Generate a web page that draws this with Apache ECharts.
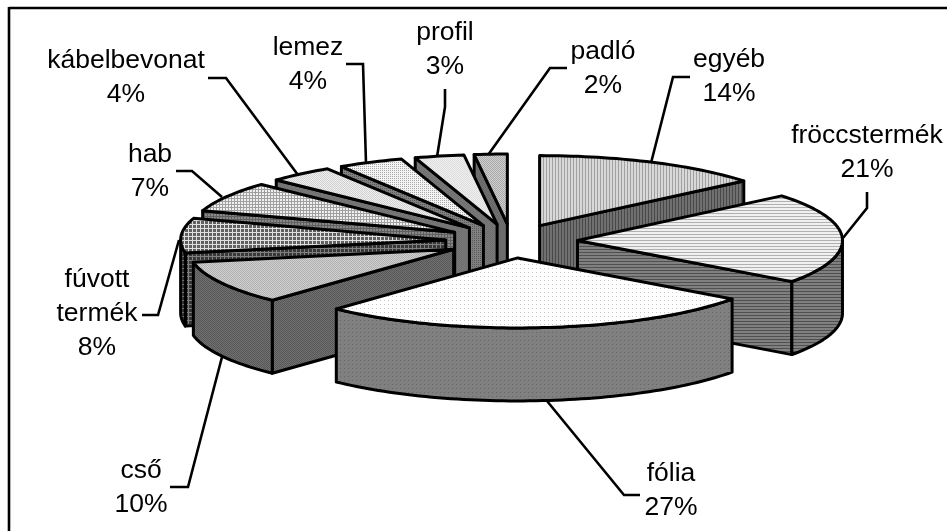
<!DOCTYPE html>
<html>
<head>
<meta charset="utf-8">
<style>
  html, body { margin: 0; padding: 0; background: #fff; }
  #chart { width: 947px; height: 531px; }
</style>
<script src="https://cdn.jsdelivr.net/npm/echarts@6/dist/echarts.min.js"></script>
</head>
<body>
<div id="chart"></div>
<script>
// clockwise from 12 o'clock
const categories = ['egyéb', 'fröccstermék', 'fólia', 'cső', 'fúvott\ntermék', 'hab', 'kábelbevonat', 'lemez', 'profil', 'padló']
const shares = [14, 21, 27, 10, 8, 7, 4, 4, 3, 2]

// pie projection
const cx = 511.5
const cy = 241
const radiusX = 265
const radiusY = 70
const explodeX = 66
const explodeY = 17
const depth = 73

// label centre + leader line for every slice
const labelPos = [[729, 77], [867, 153], [671, 491], [141, 488], [97, 314], [150, 172], [126, 78], [308, 65], [445, 50], [603, 69]]
const leaders = [
  [[690, 77], [673, 77], [651, 163]],
  [[867, 192], [867, 208], [843, 238]],
  [[547, 401], [624, 495], [640, 495]],
  [[170, 487], [188, 487], [222, 357]],
  [[142, 315], [158, 315], [179, 240]],
  [[176, 171], [192, 171], [222, 197]],
  [[208, 78], [226, 78], [298, 175]],
  [[346, 64], [363, 64], [366, 163]],
  [[445, 89], [445, 107], [437, 157]],
  [[567, 68], [550, 68], [488, 155]]
]

function tile(w, h, base, ink, test) {
  const c = document.createElement('canvas')
  c.width = w
  c.height = h
  const g = c.getContext('2d')
  g.fillStyle = base
  g.fillRect(0, 0, w, h)
  g.fillStyle = ink
  for (let y = 0; y < h; y++) {
    for (let x = 0; x < w; x++) {
      if (test(x, y)) g.fillRect(x, y, 1, 1)
    }
  }
  return { image: c, repeat: 'repeat' }
}
const vStripes = (x) => x % 3 === 0
const hStripes = (x, y) => y % 3 === 0
const sparse = (x, y) => x % 4 === 0 && y % 4 === 0
const checker = (x, y) => (x + y) % 2 === 0
const grid = (x, y) => x % 3 === 0 || y % 3 === 0
const wideGrid = (x, y) => x % 4 === 0 || y % 4 === 0
const dots = (x, y) => x % 2 === 0 && y % 2 === 0

const topFills = [
  tile(3, 3, '#d8d8d8', '#a0a0a0', vStripes),
  tile(3, 3, '#f0f0f0', '#b0b0b0', hStripes),
  tile(4, 4, '#ffffff', '#c4c4c4', sparse),
  tile(2, 2, '#d0d0d0', '#b0b0b0', checker),
  tile(4, 4, '#606060', '#e0e0e0', wideGrid),
  tile(3, 3, '#f0f0f0', '#a0a0a0', grid),
  tile(2, 2, '#f0f0f0', '#d0d0d0', checker),
  tile(2, 2, '#f4f4f4', '#a8a8a8', dots),
  tile(2, 2, '#f0f0f0', '#dcdcdc', checker),
  tile(2, 2, '#d0d0d0', '#a8a8a8', checker)
]
const wallFills = [
  tile(3, 3, '#707070', '#484848', vStripes),
  tile(3, 3, '#808080', '#505050', hStripes),
  tile(4, 4, '#808080', '#666666', sparse),
  tile(2, 2, '#707070', '#585858', checker),
  tile(4, 4, '#383838', '#808080', wideGrid),
  tile(3, 3, '#888888', '#606060', grid),
  tile(2, 2, '#707070', '#787878', checker),
  tile(2, 2, '#808080', '#585858', dots),
  tile(2, 2, '#787878', '#707070', checker),
  tile(2, 2, '#707070', '#686868', checker)
]

const total = shares.reduce((a, b) => a + b, 0)
const starts = []
shares.reduce((sum, v, i) => { starts[i] = sum; return sum + v }, 0)

const toAngle = (pct) => pct / total * Math.PI * 2
const midCos = (i) => Math.cos(toAngle(starts[i] + shares[i] / 2))
// back slices get painted first
const paintOrder = shares.map((v, i) => i).sort((a, b) => midCos(b) - midCos(a))

function renderSlice(params, api) {
  const i = api.value(0)
  const a1 = toAngle(api.value(1))
  const a2 = toAngle(api.value(1) + api.value(2))
  const mid = (a1 + a2) / 2
  const ox = cx + explodeX * Math.sin(mid)
  const oy = cy - explodeY * Math.cos(mid)
  const rim = (t) => [ox + radiusX * Math.sin(t), oy - radiusY * Math.cos(t)]
  const arc = (from, to) => {
    const n = Math.max(2, Math.ceil((to - from) * 40))
    const pts = []
    for (let k = 0; k <= n; k++) pts.push(rim(from + (to - from) * k / n))
    return pts
  }
  const drop = (pts) => pts.map((p) => [p[0], p[1] + depth])
  const style = (fill) => ({ fill, stroke: '#000', lineWidth: 3, lineJoin: 'round' })
  const children = []
  const wall = (pts) => children.push({
    type: 'polygon',
    shape: { points: pts.concat(drop(pts).reverse()) },
    style: style(wallFills[i])
  })

  // radial faces only where they turn towards the viewer
  if (Math.cos(a1 - Math.PI / 2) < -0.001) wall([[ox, oy], rim(a1)])
  if (Math.cos(a2 + Math.PI / 2) < -0.001) wall([[ox, oy], rim(a2)])
  const r1 = Math.max(a1, Math.PI / 2)
  const r2 = Math.min(a2, Math.PI * 1.5)
  if (r2 > r1) wall(arc(r1, r2))

  children.push({
    type: 'polygon',
    shape: { points: [[ox, oy]].concat(arc(a1, a2)) },
    style: style(topFills[i])
  })
  return { type: 'group', children }
}

const frame = [
  { type: 'line', shape: { x1: 9, y1: 8, x2: 947, y2: 8 }, style: { stroke: '#000', lineWidth: 2.6 } },
  { type: 'line', shape: { x1: 9, y1: 7, x2: 9, y2: 531 }, style: { stroke: '#000', lineWidth: 2.6 } }
]
const leaderLines = leaders.map((points) => ({
  type: 'polyline',
  shape: { points },
  style: { stroke: '#000', lineWidth: 2.6, fill: null }
}))
const labels = categories.map((name, i) => ({
  type: 'text',
  x: labelPos[i][0],
  y: labelPos[i][1],
  style: {
    text: name + '\n' + shares[i] + '%',
    align: 'center',
    verticalAlign: 'middle',
    font: '26.5px "Liberation Sans", Arial, sans-serif',
    lineHeight: 34,
    fill: '#000'
  }
}))

const chart = echarts.init(document.getElementById('chart'), null, { renderer: 'canvas' })
chart.setOption({
  animation: false,
  backgroundColor: '#fff',
  graphic: { elements: frame.concat(leaderLines, labels) },
  series: [{
    type: 'custom',
    coordinateSystem: 'none',
    silent: true,
    renderItem: renderSlice,
    data: paintOrder.map((i) => [i, starts[i], shares[i]])
  }]
})
</script>
</body>
</html>
